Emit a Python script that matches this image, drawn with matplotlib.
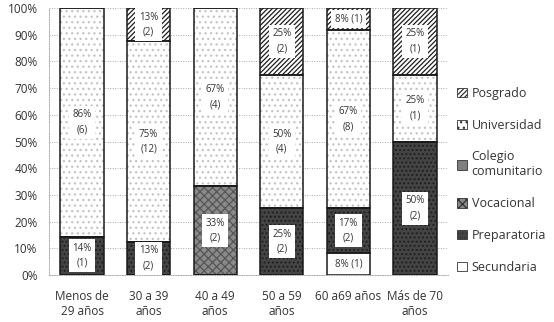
import numpy as np
import matplotlib.pyplot as plt
from matplotlib.patches import Patch

plt.rcParams['font.family'] = ['Open Sans', 'DejaVu Sans']
plt.rcParams['hatch.linewidth'] = 0.9

grupos = ['Menos de\n29 años', '30 a 39\naños', '40 a 49\naños', '50 a 59\naños',
          '60 a69 años', 'Más de 70\naños']

# porcentajes por nivel (de abajo hacia arriba)
secundaria = [0, 0, 0, 0, 8.33, 0]
preparatoria = [14.29, 12.5, 0, 25, 16.67, 50]
vocacional = [0, 0, 33.33, 0, 0, 0]
colegio = [0, 0, 0, 0, 0, 0]
universidad = [85.71, 75, 66.67, 50, 66.67, 25]
posgrado = [0, 12.5, 0, 25, 8.33, 25]

# conteos
n_secundaria = [0, 0, 0, 0, 1, 0]
n_preparatoria = [1, 2, 0, 2, 2, 2]
n_vocacional = [0, 0, 2, 0, 0, 0]
n_colegio = [0, 0, 0, 0, 0, 0]
n_universidad = [6, 12, 4, 4, 8, 1]
n_posgrado = [0, 2, 0, 2, 1, 1]

series = [
    ('Secundaria', secundaria, n_secundaria, 'white', '', 'white'),
    ('Preparatoria', preparatoria, n_preparatoria, '#444444', '....', '#1e1e1e'),
    ('Vocacional', vocacional, n_vocacional, '#8a8a8a', 'xxxx', '#555555'),
    ('Colegio\ncomunitario', colegio, n_colegio, '#7f7f7f', '', '#7f7f7f'),
    ('Universidad', universidad, n_universidad, 'white', '...', '#c4c4c4'),
    ('Posgrado', posgrado, n_posgrado, 'white', '///////', '#1e1e1e'),
]

fig = plt.figure(figsize=(5.54, 3.22), dpi=100)
ax = fig.add_axes([0.088, 0.146, 0.721, 0.829])

x = np.arange(len(grupos))
w = 0.65
bottom = np.zeros(len(grupos))
handles = []
for nombre, vals, cnt, fc, hatch, hc in series:
    vals = np.array(vals, dtype=float)
    ax.bar(x, vals, w, bottom=bottom, color=fc, hatch=hatch, edgecolor=hc,
           linewidth=0, zorder=2)
    ax.bar(x, vals, w, bottom=bottom, fill=False, edgecolor='#1a1a1a',
           linewidth=1.1, zorder=3)
    for i in range(len(grupos)):
        if vals[i] <= 0:
            continue
        pct = f'{int(vals[i] + 0.5)}%'
        if vals[i] < 10:
            txt = f'{pct} ({cnt[i]})'
        else:
            txt = f'{pct}\n({cnt[i]})'
        ax.text(x[i], bottom[i] + vals[i] / 2, txt, ha='center', va='center',
                fontsize=7, color='#333333', linespacing=1.5, zorder=4,
                bbox=dict(facecolor='white', edgecolor='none', pad=2.5))
    handles.append(Patch(facecolor=fc, hatch=hatch, edgecolor='#333333',
                         linewidth=0.6, label=nombre))
    bottom += vals

ax.set_xlim(-0.5, len(grupos) - 0.5)
ax.set_ylim(0, 100)
ax.set_yticks(np.arange(0, 101, 10))
ax.set_yticklabels([f'{v}%' for v in range(0, 101, 10)])
ax.set_xticks(x)
ax.set_xticklabels(grupos)
ax.tick_params(length=0, labelsize=8.5, colors='#333333')
ax.tick_params(axis='y', pad=8)
ax.tick_params(axis='x', pad=11)
ax.yaxis.grid(True, color='#aaaaaa', linestyle=(0, (1, 1.5)), linewidth=0.7, zorder=0)
for s in ['top', 'right']:
    ax.spines[s].set_visible(False)
for s in ['left', 'bottom']:
    ax.spines[s].set_color('#aaaaaa')
    ax.spines[s].set_linestyle((0, (1, 1.5)))
    ax.spines[s].set_linewidth(0.7)

leg = fig.legend(handles=handles[::-1], loc='center left',
                 bbox_to_anchor=(0.815, 0.44), frameon=False, fontsize=9,
                 handlelength=0.8, handleheight=0.8, handletextpad=0.4,
                 labelspacing=1.5, borderaxespad=0)
for t in leg.get_texts():
    t.set_color('#333333')

fig.savefig('out.png', dpi=100)
